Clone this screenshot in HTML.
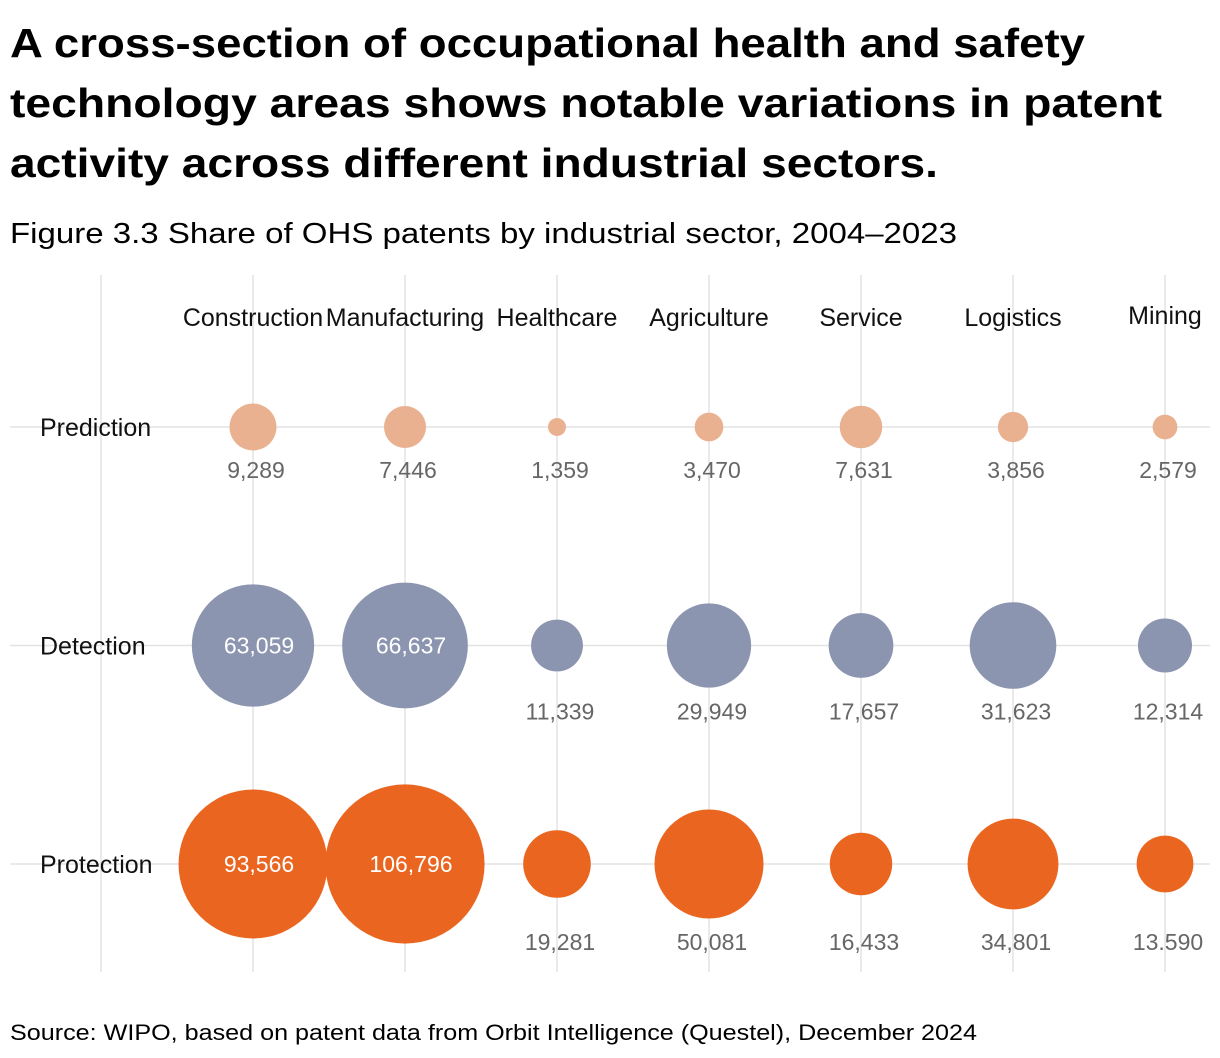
<!DOCTYPE html>
<html><head><meta charset="utf-8"><style>
body{margin:0;background:#fff;}
svg{display:block;font-family:"Liberation Sans","DejaVu Sans",sans-serif;}
</style></head><body>
<svg id="chart" width="1220" height="1058">
<text x="10" y="57" font-size="41" font-weight="bold" textLength="1075" lengthAdjust="spacingAndGlyphs">A cross-section of occupational health and safety</text>
<text x="10" y="117" font-size="41" font-weight="bold" textLength="1152" lengthAdjust="spacingAndGlyphs">technology areas shows notable variations in patent</text>
<text x="10" y="177" font-size="41" font-weight="bold" textLength="928" lengthAdjust="spacingAndGlyphs">activity across different industrial sectors.</text>
<text x="10" y="243" font-size="29" textLength="947" lengthAdjust="spacingAndGlyphs">Figure 3.3 Share of OHS patents by industrial sector, 2004–2023</text>
<text x="10" y="1040" font-size="22" textLength="967" lengthAdjust="spacingAndGlyphs">Source: WIPO, based on patent data from Orbit Intelligence (Questel), December 2024</text>
<g id="grid"></g><g id="marks"></g>
</svg>
<script>
const sectors=["Construction","Manufacturing","Healthcare","Agriculture","Service","Logistics","Mining"];
const areas=["Prediction","Detection","Protection"];
const prediction=[9289,7446,1359,3470,7631,3856,2579];
const detection=[63059,66637,11339,29949,17657,31623,12314];
const protection=[93566,106796,19281,50081,16433,34801,13590];
const valueLabels=[
["9,289","7,446","1,359","3,470","7,631","3,856","2,579"],
["63,059","66,637","11,339","29,949","17,657","31,623","12,314"],
["93,566","106,796","19,281","50,081","16,433","34,801","13.590"]];
const series=[prediction,detection,protection];
const colors=["#EAB190","#8C95B0","#EA6620"];
const NS="http://www.w3.org/2000/svg";
const xs=i=>253+152*i;
const ys=j=>427+218.5*j;
const rs=v=>0.2435*Math.sqrt(v);
const labelOff=[43,66,78];
const grid=document.getElementById('grid'),marks=document.getElementById('marks');
function mk(tag,attrs,parent){const e=document.createElementNS(NS,tag);for(const k in attrs)e.setAttribute(k,attrs[k]);parent.appendChild(e);return e;}
[101].concat(sectors.map((s,i)=>xs(i))).forEach((x,k)=>{
 const l=mk('line',{x1:x,x2:x,y1:275,y2:972,stroke:'#e3e3e3','stroke-width':1.5},grid);
 
 
});
areas.forEach((a,j)=>{
 const l=mk('line',{x1:10,x2:1210,y1:ys(j),y2:ys(j),stroke:'#e3e3e3','stroke-width':1.5},grid);
 
 
 const t=mk('text',{x:40,y:ys(j)+9,'font-size':25,fill:'#111'},grid);
 t.textContent=a;
 
 
});
sectors.forEach((s,i)=>{
 const t=mk('text',{x:xs(i),y:i==6?324:326,'font-size':25,'text-anchor':'middle',fill:'#111'},grid);
 t.textContent=s;
 
 
});
series.forEach((vals,j)=>{
 vals.forEach((v,i)=>{
  const r=rs(v);
  const c=mk('circle',{cx:xs(i),cy:ys(j),r:r,fill:colors[j]},marks);
  
  
  const inside=r>58;
  const t=mk('text',{x:xs(i)+(inside?6:3),y:inside?ys(j)+8:ys(j)+labelOff[j]+8,'font-size':23,'text-anchor':'middle',fill:inside?'#fff':'#666'},marks);
  t.textContent=valueLabels[j][i];
  
  
 });
});
</script>
</body></html>
